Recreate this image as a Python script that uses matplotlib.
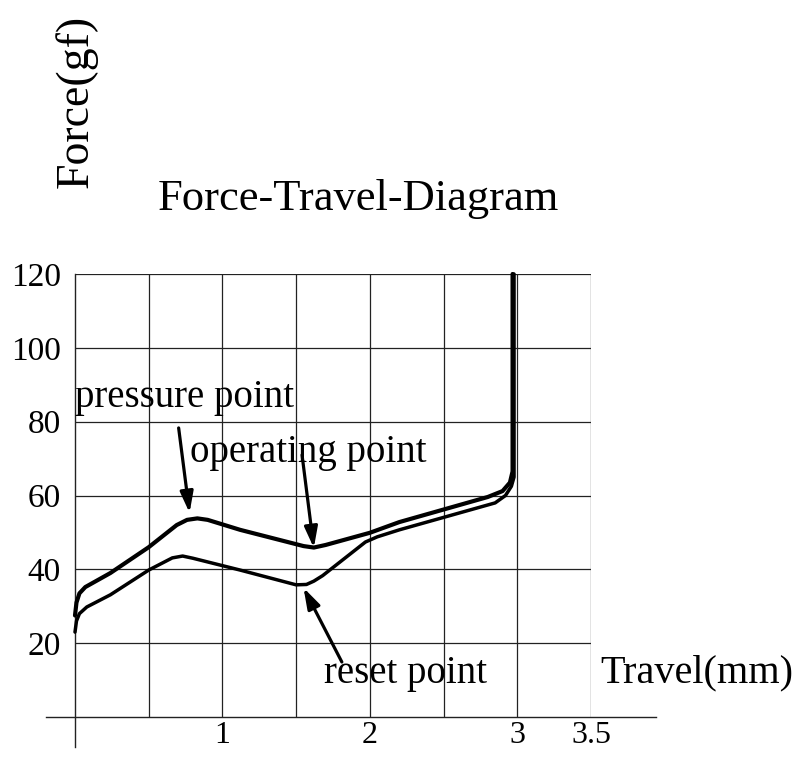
import matplotlib
matplotlib.use('Agg')
import matplotlib.pyplot as plt

plt.rcParams['font.family'] = ['Liberation Serif', 'DejaVu Serif']

# Force-travel curves (travel mm, force gf)
press_travel = [0.0, 0.01, 0.03, 0.07, 0.24, 0.50, 0.69, 0.76, 0.83, 0.90,
                1.12, 1.55, 1.62, 1.70, 2.00, 2.20, 2.80, 2.90, 2.95, 2.968, 2.968]
press_force = [27.5, 31.0, 33.5, 35.2, 39.0, 46.0, 52.0, 53.4, 53.8, 53.4,
               50.7, 46.3, 45.9, 46.6, 49.9, 52.8, 59.6, 61.2, 63.5, 66.5, 120.0]

release_travel = [0.0, 0.01, 0.03, 0.08, 0.24, 0.50, 0.66, 0.73, 0.80, 1.12,
                  1.50, 1.57, 1.62, 1.68, 1.97, 2.05, 2.20, 2.85, 2.92, 2.96, 2.978, 2.978]
release_force = [23.0, 26.0, 28.0, 29.8, 33.1, 39.8, 43.1, 43.6, 43.0, 39.8,
                 35.8, 35.9, 36.8, 38.3, 47.4, 48.8, 50.7, 58.0, 60.0, 62.5, 65.0, 120.0]

x_ticks = [0.0, 0.5, 1.0, 1.5, 2.0, 2.5, 3.0, 3.5]
x_tick_labels = ['', '', '1', '', '2', '', '3', '3.5']
y_ticks = [0, 20, 40, 60, 80, 100, 120]
y_tick_labels = ['', '20', '40', '60', '80', '100', '120']

# annotation labels: (text, text position, arrow start, arrow tip)
labels = [
    ('pressure point', (0.0, 84.0), (0.703, 78.3), (0.777, 55.3)),
    ('operating point', (0.777, 69.1), (1.54, 71.0), (1.62, 45.8)),
    ('reset point', (1.69, 9.2), (1.81, 14.9), (1.55, 35.0)),
]

fig = plt.figure(figsize=(8.05, 7.58), dpi=100)
ax = fig.add_axes([75 / 805, 41 / 758, 516 / 805, 443 / 758])
ax.set_xlim(0, 3.5)
ax.set_ylim(0, 120)

for s in ax.spines.values():
    s.set_visible(False)

# grid
grid_kw = dict(color='#222222', lw=0.9, zorder=1)
for xv in x_ticks[1:]:
    ax.plot([xv, xv], [0, 120], **grid_kw)
for yv in y_ticks[1:]:
    ax.plot([0, 3.5], [yv, yv], **grid_kw)
# extended axes lines
ax.plot([-0.2, 3.94], [0, 0], color='#222222', lw=1.0, clip_on=False, zorder=1)
ax.plot([0, 0], [-8.1, 120], color='#222222', lw=1.0, clip_on=False, zorder=1)

ax.plot(press_travel, press_force, color='black', lw=3.0, solid_joinstyle='round',
        solid_capstyle='round', clip_on=False, zorder=3)
ax.plot(release_travel, release_force, color='black', lw=2.5, solid_joinstyle='round',
        solid_capstyle='round', clip_on=False, zorder=3)

ax.set_xticks(x_ticks)
ax.set_xticklabels(x_tick_labels, fontsize=23)
ax.set_yticks(y_ticks)
ax.set_yticklabels(y_tick_labels, fontsize=24)
ax.tick_params(length=0)
ax.tick_params(axis='x', pad=3)
ax.tick_params(axis='y', pad=10)

for text, pos, start, tip in labels:
    ax.text(pos[0], pos[1], text, fontsize=28, ha='left', va='baseline', zorder=4)
    ax.annotate('', xy=tip, xytext=start,
                arrowprops=dict(arrowstyle='-|>,head_length=0.7,head_width=0.22',
                                color='black', lw=2.3, mutation_scale=18,
                                shrinkA=0, shrinkB=0), zorder=4)

ax.text(3.56, 9.5, 'Travel(mm)', fontsize=29, ha='left', va='baseline')

fig.text(358 / 805, 1 - 199 / 758, 'Force-Travel-Diagram', fontsize=32,
         ha='center', va='center')
fig.text(76 / 805, 1 - 101 / 758, 'Force(gf)', fontsize=33, rotation=90,
         ha='center', va='center')

fig.savefig('out.png', dpi=100)
